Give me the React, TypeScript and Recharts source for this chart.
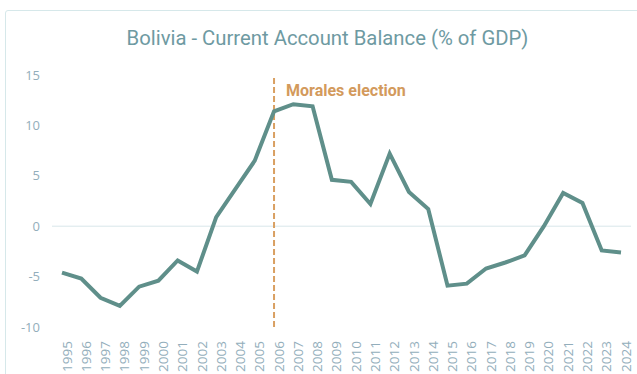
import { CartesianGrid, Line, LineChart, ReferenceLine, XAxis, YAxis } from 'recharts';

const years = [
  '1995', '1996', '1997', '1998', '1999', '2000', '2001', '2002', '2003', '2004',
  '2005', '2006', '2007', '2008', '2009', '2010', '2011', '2012', '2013', '2014',
  '2015', '2016', '2017', '2018', '2019', '2020', '2021', '2022', '2023', '2024',
];

const balance = [
  -4.6, -5.2, -7.1, -7.9, -6.0, -5.4, -3.4, -4.5, 0.9, 3.7,
  6.5, 11.4, 12.1, 11.9, 4.6, 4.4, 2.2, 7.2, 3.4, 1.7,
  -5.9, -5.7, -4.2, -3.6, -2.9, 0.0, 3.3, 2.3, -2.4, -2.6,
];

const yTicks = [-10, -5, 0, 5, 10, 15];

const data = years.map((year, i) => ({ year, value: balance[i] }));

const MoralesLabel = (props: any) => {
  const { viewBox } = props;
  return (
    <text
      x={viewBox.x + 12}
      y={viewBox.y + 21}
      fill="#d39a5c"
      fontSize={16}
      fontWeight={700}
      fontFamily="Roboto, sans-serif"
    >
      Morales election
    </text>
  );
};

export default function App() {
  return (
    <div style={{ position: 'absolute', left: 0, top: 0, width: 637, height: 374, background: '#fff', overflow: 'hidden' }}>
      {/* card */}
      <div
        style={{
          position: 'absolute',
          left: 5,
          top: 10,
          width: 640,
          height: 380,
          border: '1px solid #d6e8ea',
          borderRadius: 3,
        }}
      />
      <div
        style={{
          position: 'absolute',
          left: 0,
          top: 26,
          width: 655,
          textAlign: 'center',
          fontFamily: 'Roboto, sans-serif',
          fontSize: 20.3,
          color: '#6e9aa2',
        }}
      >
        Bolivia - Current Account Balance (% of GDP)
      </div>
      <div style={{ position: 'absolute', left: 0, top: 0 }}>
        <LineChart width={637} height={374} data={data} margin={{ top: 75, right: 6, left: 0, bottom: 6 }}>
          <CartesianGrid horizontal={false} vertical={false} />
          <XAxis
            dataKey="year"
            interval={0}
            axisLine={false}
            tickLine={false}
            padding={{ left: 10, right: 10 }}
            angle={-90}
            textAnchor="end"
            height={41}
            tickMargin={4}
            tick={{ fontSize: 13.5, fill: '#93aebb', fontFamily: '"Open Sans", sans-serif', dy: 4 }}
          />
          <YAxis
            domain={[-10, 15]}
            ticks={yTicks}
            width={52}
            axisLine={false}
            tickLine={false}
            tickSize={0}
            tickMargin={12}
            tick={{ fontSize: 13, fill: '#93aebb', fontFamily: '"Open Sans", sans-serif' }}
          />
          <ReferenceLine y={0} stroke="#d8e6ea" strokeWidth={1} />
          <ReferenceLine
            x="2006"
            stroke="#d9a062"
            strokeWidth={2}
            strokeDasharray="6 3"
            label={<MoralesLabel />}
          />
          <Line
            type="linear"
            dataKey="value"
            stroke="#5f8f8a"
            strokeWidth={4}
            dot={false}
            isAnimationActive={false}
          />
        </LineChart>
      </div>
    </div>
  );
}
